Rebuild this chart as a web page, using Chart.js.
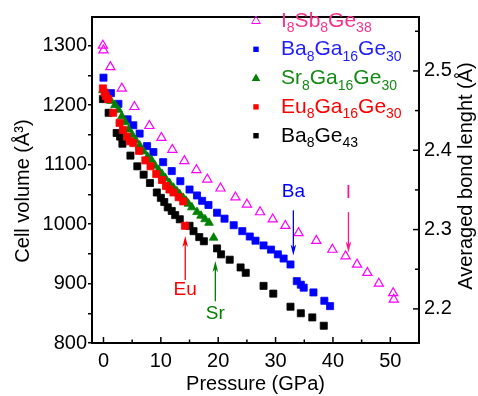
<!DOCTYPE html>
<html><head><meta charset="utf-8">
<script src="https://cdn.jsdelivr.net/npm/chart.js@4.4.1/dist/chart.umd.min.js"></script>
<style>html,body{margin:0;padding:0;background:#fff;}#wrap{width:478px;height:396px;}</style>
</head><body><div id="wrap"><canvas id="c" width="478" height="396"></canvas></div>
<script>
// ---- data (pressure in GPa, cell volume in Å^3) ----
const i8Sb8Ge38Pressure = [-0.1,0.0,1.2,3.2,5.4,8.0,10.1,12.0,14.1,16.2,18.1,20.4,23.0,25.0,27.3,29.5,31.7,34.0,37.1,39.9,42.2,44.2,46.0,48.0,50.5,50.6];
const i8Sb8Ge38Volume   = [1300,1292,1264,1228,1197,1165,1145,1125,1106,1091,1075,1060,1045,1033,1020,1008,997,985,972,957,946,932,918,900,884,873];

const ba8Ga16Ge30Pressure = [0.0,1.3,2.6,4.2,5.2,6.3,7.6,8.7,10.4,11.9,13.4,15.0,16.3,17.2,18.3,19.8,21.1,22.7,24.2,25.5,26.5,27.9,29.2,30.4,31.4,32.6,33.7,34.4,34.9,36.6,38.5,39.5];
const ba8Ga16Ge30Volume   = [1246,1220,1202,1176,1166,1152,1131,1121,1104,1089,1072,1058,1048,1039,1032,1019,1009,998,988,979,972,964,957,949,942,932,904,898,893,885,871,862];

const sr8Ga16Ge30Pressure = [-0.1,0.3,1.3,2.0,2.6,3.2,3.8,4.4,5.0,5.6,6.3,7.0,7.7,8.4,9.0,9.6,10.2,10.8,11.5,12.2,12.8,13.3,13.9,14.4,14.8,15.4,16.3,17.0,17.7,18.4,19.2];
const sr8Ga16Ge30Volume   = [1225,1220,1207,1200,1192,1181,1171,1159,1150,1141,1132,1122,1113,1107,1098,1091,1084,1077,1069,1061,1055,1050,1044,1039,1034,1028,1020,1014,1008,1002,977];

const eu8Ga16Ge30Pressure = [-0.1,0.2,0.4,0.8,1.7,2.8,3.4,4.1,4.6,5.2,6.2,7.3,8.2,9.2,10.2,10.9,11.5,12.2,13.1,13.9,14.2];
const eu8Ga16Ge30Volume   = [1228,1221,1215,1210,1187,1170,1158,1147,1139,1136,1123,1107,1097,1084,1074,1064,1058,1053,1045,1038,997];

const ba8Ge43Pressure = [-0.1,0.9,2.3,2.9,3.3,4.7,5.9,7.0,8.1,9.3,10.0,10.6,11.2,11.9,12.5,13.3,15.0,15.7,16.7,17.5,19.8,20.5,22.0,23.9,24.8,27.9,29.6,32.6,34.4,36.4,38.4];
const ba8Ge43Volume   = [1210,1187,1153,1147,1135,1115,1097,1083,1069,1053,1044,1037,1028,1022,1015,1008,997,988,978,971,959,949,940,927,918,896,883,861,850,843,829];

// tick labels (major) and tick marks (major + minor)
const xTickLabels  = [0,10,20,30,40,50];
const xTickMarks   = [0,5,10,15,20,25,30,35,40,45,50];
const yTickLabels  = [800,900,1000,1100,1200,1300];
const yTickMarks   = [800,850,900,950,1000,1050,1100,1150,1200,1250,1300];
const y2TickLabels = [2.2,2.3,2.4,2.5];
const y2TickMarks  = [2.2,2.25,2.3,2.35,2.4,2.45,2.5,2.55];

// arrow annotations: pressure, arrow tail / head volume, label volume
const annoText     = ['Eu','Sr','Ba','I'];
const annoPressure = [14.25,19.5,33.1,42.7];
const annoTail     = [906,870,1023,1020];
const annoHead     = [980,938,947,952];
const annoLabelV   = [889,849,1054,1053];
const annoColor    = ['#FF0000','#008000','#0000FF','#FF1493'];

// ---- styles ----
const FONT = "'Liberation Sans', Arial, sans-serif";
const legendRows = [
  {parts:[['I',0],['8',1],['Sb',0],['8',1],['Ge',0],['38',1]], color:'#F5338F', style:'triangle', fill:false, mcol:'#FF00FF'},
  {parts:[['Ba',0],['8',1],['Ga',0],['16',1],['Ge',0],['30',1]], color:'#1E1EFF', style:'rect', fill:true, mcol:'#0000FF'},
  {parts:[['Sr',0],['8',1],['Ga',0],['16',1],['Ge',0],['30',1]], color:'#138A13', style:'triangle', fill:true, mcol:'#008000'},
  {parts:[['Eu',0],['8',1],['Ga',0],['16',1],['Ge',0],['30',1]], color:'#FF0000', style:'rect', fill:true, mcol:'#FF0000'},
  {parts:[['Ba',0],['8',1],['Ge',0],['43',1]], color:'#000000', style:'rect', fill:true, mcol:'#000000'}
];

function pts(px, py){ return px.map((p,i)=>({x:p, y:py[i]})); }
function near(v, arr){ return arr.some(a => Math.abs(a - v) < 1e-6); }
function setTicks(arr){ return s => { s.ticks = arr.map(v => ({value: v})); }; }

const decor = {
  id: 'decor',
  afterDraw(chart){
    const {ctx, chartArea:a, scales} = chart;
    const x = scales.x, y = scales.y, y2 = scales.y2;
    ctx.save();
    // top frame line
    ctx.strokeStyle = '#000'; ctx.lineWidth = 2;
    ctx.beginPath(); ctx.moveTo(a.left-1, a.top); ctx.lineTo(a.right+1, a.top); ctx.stroke();
    // inward ticks on bottom and right axes
    ctx.lineWidth = 1.5;
    x.ticks.forEach(t => {
      const px = x.getPixelForValue(t.value);
      const len = near(t.value, xTickLabels) ? 6 : 3.5;
      ctx.beginPath(); ctx.moveTo(px, a.bottom); ctx.lineTo(px, a.bottom - len); ctx.stroke();
    });
    y2.ticks.forEach(t => {
      const py = y2.getPixelForValue(t.value);
      const len = near(t.value, y2TickLabels) ? 6 : 4;
      ctx.beginPath(); ctx.moveTo(a.right, py); ctx.lineTo(a.right - len, py); ctx.stroke();
    });
    // axis titles for the two vertical axes (both read bottom-to-top)
    ctx.fillStyle = '#000';
    ctx.font = '20px ' + FONT;
    ctx.textAlign = 'center'; ctx.textBaseline = 'alphabetic';
    ctx.save(); ctx.translate(29, 191); ctx.rotate(-Math.PI/2);
    ctx.fillText('Cell volume (Å³)', 0, 0); ctx.restore();
    ctx.save(); ctx.translate(472, 176); ctx.rotate(-Math.PI/2);
    ctx.fillText('Averaged bond lenght (Å)', 0, 0); ctx.restore();

    // arrows + labels
    annoText.forEach((txt, i) => {
      const px = x.getPixelForValue(annoPressure[i]);
      const yt = y.getPixelForValue(annoTail[i]);
      const yh = y.getPixelForValue(annoHead[i]);
      const yl = y.getPixelForValue(annoLabelV[i]);
      const dir = Math.sign(yh - yt);
      ctx.strokeStyle = annoColor[i]; ctx.fillStyle = annoColor[i];
      ctx.lineWidth = 1.3;
      ctx.beginPath(); ctx.moveTo(px, yt); ctx.lineTo(px, yh - dir*6); ctx.stroke();
      ctx.beginPath();
      ctx.moveTo(px, yh);
      ctx.lineTo(px - 2.8, yh - dir*11);
      ctx.lineTo(px, yh - dir*8);
      ctx.lineTo(px + 2.8, yh - dir*11);
      ctx.closePath(); ctx.fill();
      ctx.font = '19px ' + FONT;
      ctx.textAlign = 'center'; ctx.textBaseline = 'middle';
      ctx.fillText(txt, px, yl);
    });

    // legend with subscripts
    const mx = 256, tx = 281, base0 = 26.5, step = 28.8;
    legendRows.forEach((r, i) => {
      const by = base0 + i*step;
      const my = by - 6;
      ctx.fillStyle = r.mcol; ctx.strokeStyle = r.mcol; ctx.lineWidth = 1;
      if (r.style === 'triangle') {
        ctx.beginPath();
        ctx.moveTo(mx, my - 4.5); ctx.lineTo(mx + 4.3, my + 3); ctx.lineTo(mx - 4.3, my + 3); ctx.closePath();
        if (r.fill) ctx.fill(); else ctx.stroke();
      } else {
        ctx.fillRect(mx - 2.7, my - 2.7, 5.4, 5.4);
      }
      ctx.fillStyle = r.color;
      ctx.textAlign = 'left'; ctx.textBaseline = 'alphabetic';
      let cx = tx;
      r.parts.forEach(([s, sub]) => {
        ctx.font = (sub ? '14px ' : '21px ') + FONT;
        ctx.fillText(s, cx, sub ? by + 5.5 : by);
        cx += ctx.measureText(s).width;
      });
    });
    ctx.restore();
  }
};

const ds = (label, px, py, style, color, fill, r) => ({
  label, data: pts(px, py), pointStyle: style, pointRadius: r,
  backgroundColor: fill ? color : 'rgba(0,0,0,0)', borderColor: color,
  borderWidth: fill ? 0.8 : 1.2, showLine: false
});

new Chart(document.getElementById('c'), {
  type: 'scatter',
  data: { datasets: [
    ds('Eu8Ga16Ge30', eu8Ga16Ge30Pressure, eu8Ga16Ge30Volume, 'rect', '#FF0000', true, 5),
    ds('Sr8Ga16Ge30', sr8Ga16Ge30Pressure, sr8Ga16Ge30Volume, 'triangle', '#008000', true, 5),
    ds('Ba8Ge43', ba8Ge43Pressure, ba8Ge43Volume, 'rect', '#000000', true, 5),
    ds('Ba8Ga16Ge30', ba8Ga16Ge30Pressure, ba8Ga16Ge30Volume, 'rect', '#0000FF', true, 5),
    ds('I8Sb8Ge38', i8Sb8Ge38Pressure, i8Sb8Ge38Volume, 'triangle', '#FF00FF', false, 5.3)
  ]},
  options: {
    responsive: false, animation: false, events: [],
    layout: { padding: { top: 7, left: 0, right: 0, bottom: 0 } },
    plugins: { legend: { display: false }, tooltip: { enabled: false } },
    scales: {
      x: {
        type: 'linear', min: -2, max: 55,
        afterBuildTicks: setTicks(xTickMarks),
        afterFit(s){ s.height = 53; },
        grid: { display: true, drawOnChartArea: false, drawTicks: false },
        border: { display: true, color: '#000', width: 2 },
        ticks: { padding: 6, color: '#000', maxRotation: 0, autoSkip: false,
          font: { family: FONT, size: 20 },
          callback: v => near(v, xTickLabels) ? String(v) : '' },
        title: { display: true, text: 'Pressure (GPa)', color: '#000', font: { family: FONT, size: 20 }, padding: { top: 4, bottom: 0 } }
      },
      y: {
        type: 'linear', position: 'left', min: 800, max: 1348,
        afterBuildTicks: setTicks(yTickMarks),
        afterFit(s){ s.width = 92; },
        grid: { display: true, drawOnChartArea: false, drawTicks: true, tickLength: 4, color: '#000', lineWidth: 1.5 },
        border: { display: true, color: '#000', width: 2 },
        ticks: { padding: 1, color: '#000', autoSkip: false,
          font: { family: FONT, size: 20 },
          callback: v => near(v, yTickLabels) ? String(v) : '' }
      },
      y2: {
        type: 'linear', position: 'right', min: 2.157, max: 2.568,
        afterBuildTicks: setTicks(y2TickMarks),
        afterFit(s){ s.width = 59; },
        grid: { display: true, drawOnChartArea: false, drawTicks: false },
        border: { display: true, color: '#000', width: 2 },
        ticks: { padding: 5, color: '#000', autoSkip: false,
          font: { family: FONT, size: 20 },
          callback: v => near(v, y2TickLabels) ? v.toFixed(1) : '' }
      }
    }
  },
  plugins: [decor]
});
</script>
</body></html>
